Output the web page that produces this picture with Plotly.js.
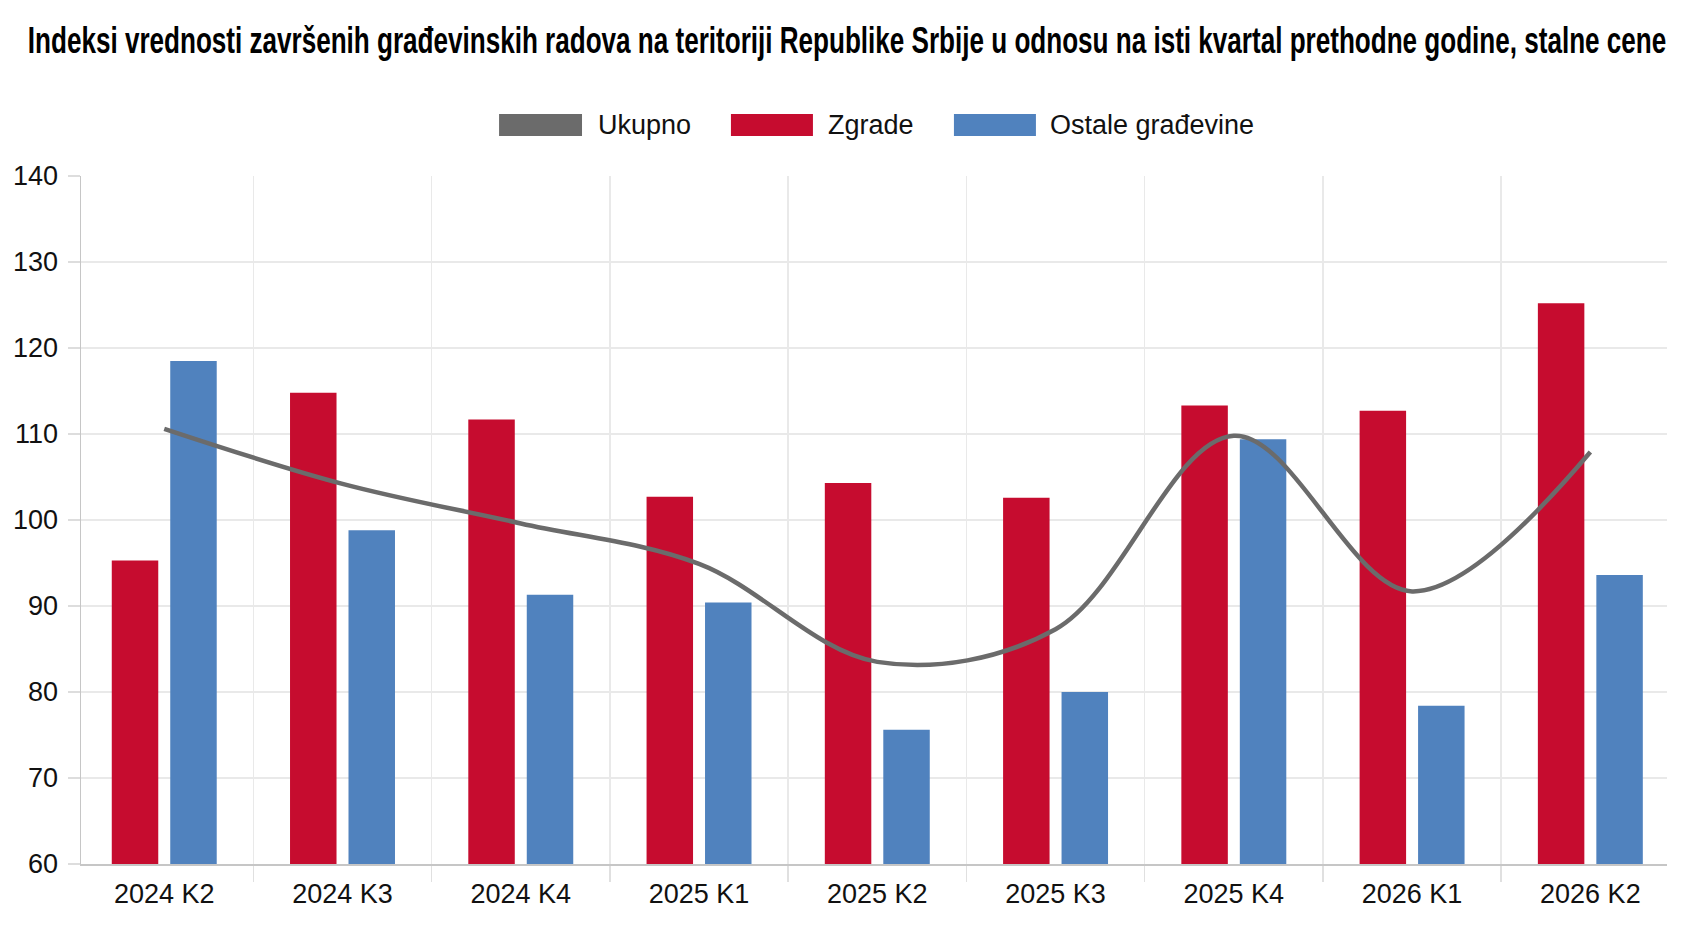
<!DOCTYPE html>
<html>
<head>
<meta charset="utf-8">
<script src="https://cdn.plot.ly/plotly-3.0.1.min.js"></script>
<style>
  html, body { margin: 0; padding: 0; background: #ffffff; }
  #chart { width: 1684px; height: 934px; }
</style>
</head>
<body>
<div id="chart"></div>
<script>
// ---- Data ----
const categories = ["2024 K2", "2024 K3", "2024 K4", "2025 K1", "2025 K2", "2025 K3", "2025 K4", "2026 K1", "2026 K2"];
const ukupno = [110.6, 104.2, 99.6, 94.9, 83.5, 87.3, 109.8, 91.7, 107.9];
const zgrade = [95.3, 114.8, 111.7, 102.7, 104.3, 102.6, 113.3, 112.7, 125.2];
const ostale = [118.5, 98.8, 91.3, 90.4, 75.6, 80.0, 109.4, 78.4, 93.6];
const seriesNames = ["Ukupno", "Zgrade", "Ostale građevine"];
const yTicks = [60, 70, 80, 90, 100, 110, 120, 130, 140];

const titleText = "Indeksi vrednosti završenih građevinskih radova na teritoriji Republike Srbije u odnosu na isti kvartal prethodne godine, stalne cene";

const colors = { ukupno: "#6b6b6b", zgrade: "#c60c2f", ostale: "#5082be" };

const traces = [
  {
    type: "bar", name: seriesNames[1], x: categories, y: zgrade,
    marker: { color: colors.zgrade }, showlegend: false
  },
  {
    type: "bar", name: seriesNames[2], x: categories, y: ostale,
    marker: { color: colors.ostale }, showlegend: false
  },
  {
    type: "scatter", mode: "lines", name: seriesNames[0], x: categories, y: ukupno,
    line: { color: colors.ukupno, width: 4.5, shape: "spline", smoothing: 1.0 },
    showlegend: false
  }
];

// custom legend (wide swatches)
const legendItems = [
  { name: seriesNames[0], color: colors.ukupno, x0: 0.2636, x1: 0.3159, tx: 0.3250 },
  { name: seriesNames[1], color: colors.zgrade, x0: 0.4098, x1: 0.4615, tx: 0.4700 },
  { name: seriesNames[2], color: colors.ostale, x0: 0.5504, x1: 0.6021, tx: 0.6100 }
];
const shapes = legendItems.map(it => ({
  type: "rect", xref: "paper", yref: "paper",
  x0: it.x0, x1: it.x1, y0: 1.0581, y1: 1.0901,
  fillcolor: it.color, line: { width: 0 }
}));
const annotations = legendItems.map(it => ({
  xref: "paper", yref: "paper", x: it.tx, y: 1.0741,
  xanchor: "left", yanchor: "middle", showarrow: false,
  text: it.name, font: { family: "Liberation Sans, Arial, sans-serif", size: 27, color: "#111" }
}));

const layout = {
  width: 1684, height: 934,
  paper_bgcolor: "#ffffff", plot_bgcolor: "#ffffff",
  margin: { l: 81, r: 17, t: 176, b: 70 },
  title: {
    text: "<b>" + titleText + "</b>",
    xref: "container", x: 0.503, xanchor: "center",
    yref: "container", y: 0.957, yanchor: "middle",
    font: { family: "Liberation Sans, Arial, sans-serif", size: 36, color: "#000" }
  },
  barmode: "group",
  bargap: 0.344,
  bargroupgap: 0.205,
  showlegend: false,
  xaxis: {
    type: "category",
    range: [-0.467, 8.43],
    tickson: "boundaries",
    showgrid: true, gridcolor: "#e9e9e9", gridwidth: 1.5,
    ticks: "outside", ticklen: 16, tickcolor: "#e0e0e0", tickwidth: 1.5,
    showline: true, linecolor: "#c6c6c6", linewidth: 2,
    ticklabelstandoff: 5,
    tickfont: { family: "Liberation Sans, Arial, sans-serif", size: 27, color: "#111" },
    zeroline: false
  },
  yaxis: {
    range: [60, 140],
    tickvals: yTicks,
    showgrid: true, gridcolor: "#e9e9e9", gridwidth: 1.5,
    ticks: "outside", ticklen: 12, tickcolor: "#dddddd", tickwidth: 1.5,
    showline: true, linecolor: "#c6c6c6", linewidth: 1.5,
    ticklabelstandoff: 4,
    tickfont: { family: "Liberation Sans, Arial, sans-serif", size: 27, color: "#111" },
    zeroline: false
  },
  shapes: shapes,
  annotations: annotations
};

Plotly.newPlot("chart", traces, layout, { displayModeBar: false, staticPlot: true }).then(function (gd) {
  // condense the title horizontally so it fits like the reference's narrow bold face
  const t = gd.querySelector(".gtitle");
  if (t) {
    const bb = t.getBBox();
    const target = 1639;
    const s = Math.min(1, target / bb.width);
    const cx = bb.x + bb.width / 2;
    const g = t.parentNode;
    g.setAttribute("transform", "translate(" + cx + ",0) scale(" + s + ",1) translate(" + (-cx) + ",0)");
  }
});
</script>
</body>
</html>
